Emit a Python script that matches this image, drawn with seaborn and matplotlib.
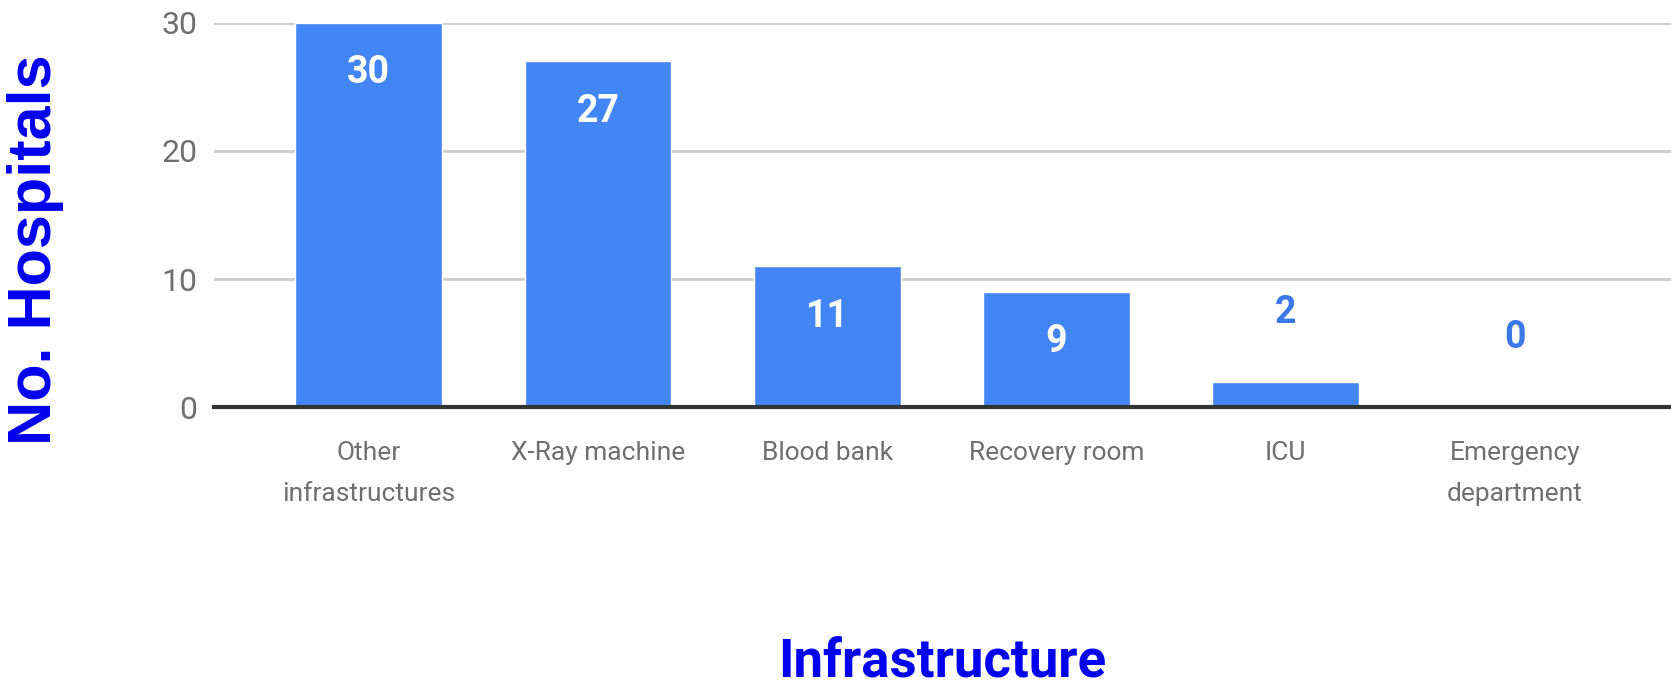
import matplotlib
matplotlib.use("Agg")
import matplotlib.pyplot as plt
import numpy as np
import pandas as pd
import seaborn as sns

categories = ["Other\ninfrastructures", "X-Ray machine", "Blood bank",
              "Recovery room", "ICU", "Emergency\ndepartment"]
hospitals = [30, 27, 11, 9, 2, 0]
y_ticks = [0, 10, 20, 30]

data = pd.DataFrame({"infra": categories, "count": hospitals})

sns.set_style("white")
plt.rcParams["font.family"] = ["Roboto", "DejaVu Sans"]

bar_blue = "#4285f4"
label_blue = "#0000ee"

fig = plt.figure(figsize=(16.71, 6.89), dpi=100)
ax = fig.add_axes([0.128, 0.409, 0.872, 0.558])

sns.barplot(data=data, x="infra", y="count", color=bar_blue, saturation=1,
            width=0.64, ax=ax, zorder=3)

ax.set_xlim(-0.675, 5.68)
ax.set_ylim(0, 30)
ax.set_yticks(y_ticks)
ax.yaxis.grid(True, color="#cccccc", linewidth=2, zorder=0)
ax.set_axisbelow(True)
for s in ["top", "right", "left"]:
    ax.spines[s].set_visible(False)
ax.spines["bottom"].set_color("#333333")
ax.spines["bottom"].set_linewidth(3)
ax.spines["bottom"].set_zorder(4)

ax.tick_params(axis="y", length=0, pad=12, labelsize=23, labelcolor="#6f6f6f")
ax.tick_params(axis="x", length=0, pad=24, labelsize=19, labelcolor="#6f6f6f")
for t in ax.get_xticklabels():
    t.set_linespacing(1.9)
ax.set_xlabel("")
ax.set_ylabel("")

# value labels: inside for tall bars, above for short ones
for i, v in enumerate(hospitals):
    if v >= 5:
        ax.annotate(str(v), (i, v), xytext=(0, -36), textcoords="offset points",
                    ha="center", va="center", color="white",
                    fontsize=27, fontweight="bold", zorder=5)
    else:
        ax.annotate(str(v), (i, v), xytext=(0, 50), textcoords="offset points",
                    ha="center", va="center", color="#3b78e7",
                    fontsize=27, fontweight="bold", zorder=5)

fig.text(0.021, 0.637, "No. Hospitals", rotation=90, ha="center", va="center",
         color=label_blue, fontsize=44, fontweight="bold",
         family=["Liberation Sans", "DejaVu Sans"])
fig.text(0.564, 0.018, "Infrastructure", ha="center", va="baseline",
         color=label_blue, fontsize=38, fontweight="bold")

fig.savefig("out.png", dpi=100, facecolor="white")
